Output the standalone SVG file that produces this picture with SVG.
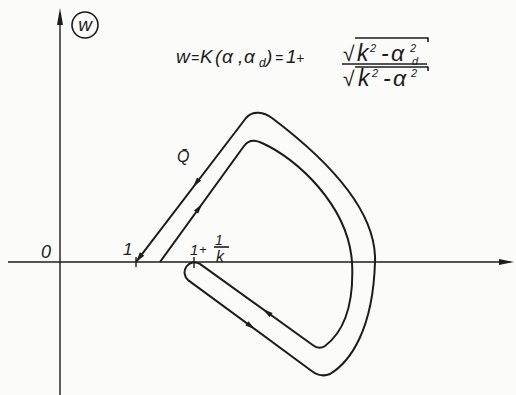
<svg xmlns="http://www.w3.org/2000/svg" xmlns:xlink="http://www.w3.org/1999/xlink" width="516" height="395" viewBox="0 0 516 395">
<style>
.ax{stroke:#1c1c1c;stroke-width:1.4;fill:none}
.cv{stroke:#1c1c1c;stroke-width:2;fill:none;stroke-linejoin:round}
.fl{fill:#1c1c1c;stroke:none}
.t{font-family:"Liberation Sans",Arial,sans-serif;font-style:italic;fill:#1c1c1c}
.ln{stroke:#1c1c1c;stroke-width:1.6;fill:none}
</style>
<defs>
<path id="ah" d="M0 0 L-10 -2.6 L-10 2.6 Z"/>
<marker id="endArrow" viewBox="-11 -4 12 8" refX="0" refY="0" markerWidth="12" markerHeight="8" markerUnits="userSpaceOnUse" orient="auto">
<path d="M0 0 L-10 -2.8 L-10 2.8 Z" fill="#1c1c1c"/>
</marker>
</defs>
<rect width="516" height="395" fill="#fbfbfa"/>
<g id="axes">
<line class="ax" x1="60" y1="395" x2="60" y2="22"/>
<polygon class="fl" points="60,8 57,25 63,25"/>
<line class="ax" x1="8" y1="262" x2="502" y2="262"/>
<polygon class="fl" points="514,262 499,259 499,265"/>
<line class="ax" x1="136" y1="257" x2="136" y2="267"/>
<line class="ax" x1="194" y1="257" x2="194" y2="268"/>
</g>
<g id="connectors">
<path class="cv" marker-end="url(#endArrow)" d="M160 262 L244 146 C249 139 255 139.5 262 143 C296 158 348 205 352 262 C354 300 346 330 325 346 Q319 350 313 345.3 L199.9 263.9 A10.05 10.05 0 0 0 188.1 280.1 L312 371.2 C318 375.6 324 376.5 330 374 C350 362 373 330 375 262 C377 210 325 158 272 118 C264 112 253 110 246 118 L136 262"/>
<use xlink:href="#ah" class="fl" transform="translate(193,187) rotate(127.4)"/>
<use xlink:href="#ah" class="fl" transform="translate(202,204) rotate(-54.1)"/>
<use xlink:href="#ah" class="fl" transform="translate(263,309.3) rotate(-144.2)"/>
<use xlink:href="#ah" class="fl" transform="translate(255,329.3) rotate(36.3)"/>
</g>
<g id="node-w">
<circle class="ln" cx="85" cy="25" r="13"/>
<text class="t" x="85" y="31" font-size="19" text-anchor="middle">w</text>
</g>
<g id="node-formula">
<text class="t" font-size="19" y="63"><tspan x="176">w</tspan><tspan x="191" font-size="14">=</tspan><tspan x="200">K</tspan><tspan x="215">(</tspan><tspan x="222">α</tspan><tspan x="238">,</tspan><tspan x="244">α</tspan><tspan x="259" y="67" font-size="12">d</tspan><tspan x="266" y="63">)</tspan><tspan x="275" font-size="14">=</tspan><tspan x="286">1</tspan><tspan x="296" font-size="14">+</tspan></text>
<text class="t" font-size="23" y="61"><tspan x="343" font-style="normal" font-size="21">√</tspan><tspan x="357">k</tspan><tspan x="370" y="52" font-size="11">2</tspan><tspan x="381" y="61">-</tspan><tspan x="391">α</tspan><tspan x="410" y="52" font-size="11">2</tspan></text>
<text class="t" font-size="11" x="412" y="65">d</text>
<line class="ln" x1="355" y1="38" x2="428" y2="38"/>
<line class="ln" x1="428" y1="37.5" x2="428" y2="42"/>
<line class="ln" x1="342" y1="64" x2="427" y2="64"/>
<text class="t" font-size="23" y="86"><tspan x="343" font-style="normal" font-size="21">√</tspan><tspan x="358">k</tspan><tspan x="372" y="77" font-size="11">2</tspan><tspan x="383" y="86">-</tspan><tspan x="393">α</tspan><tspan x="411" y="77" font-size="11">2</tspan></text>
<line class="ln" x1="355" y1="67" x2="428" y2="67"/>
<line class="ln" x1="428" y1="66.5" x2="428" y2="71"/>
</g>
<g id="label-Q">
<text class="t" x="177" y="162" font-size="16">Q̄</text>
</g>
<g id="label-0">
<text class="t" x="41" y="258" font-size="18">0</text>
</g>
<g id="label-1">
<text class="t" x="123" y="255" font-size="17">1</text>
</g>
<g id="label-1k">
<text class="t" x="190" y="255" font-size="15">1</text>
<text class="t" x="199" y="254" font-size="13">+</text>
<text class="t" x="215" y="245" font-size="14">1</text>
<line class="ln" x1="214" y1="247" x2="229" y2="247"/>
<text class="t" x="216" y="262" font-size="16">k</text>
</g>
</svg>
